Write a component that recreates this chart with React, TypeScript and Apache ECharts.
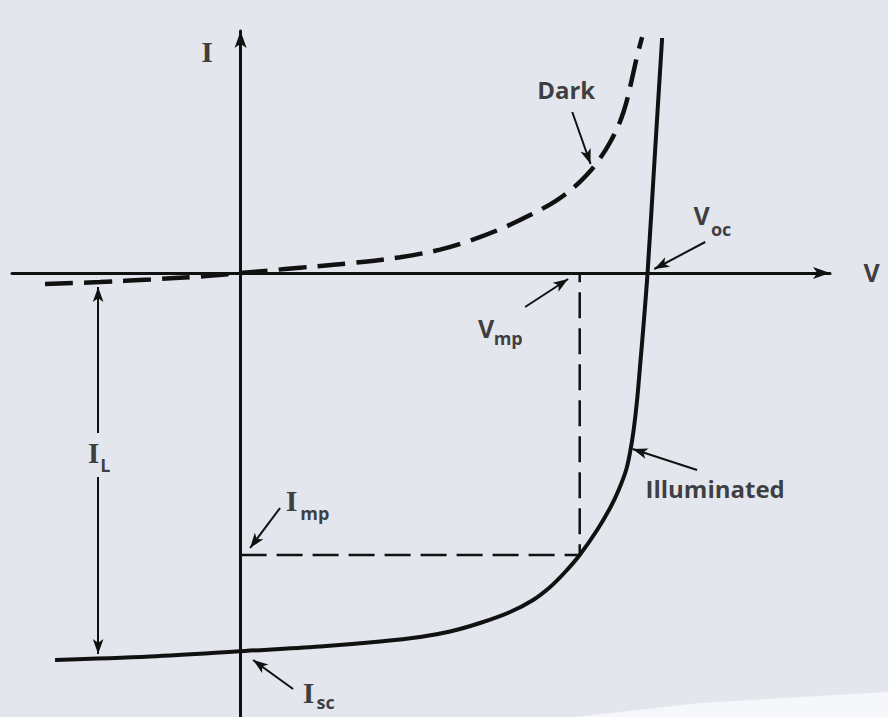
import React, { useEffect, useRef } from "react";
import * as echarts from "echarts";

// Solar cell I-V characteristics (V in volts, I in mA)

// Illuminated curve
const ILLUM_V = [-0.2735, -0.1334, 0.0066, 0.1172, 0.2057, 0.2647, 0.3089, 0.353, 0.3974, 0.4313, 0.4564, 0.4785, 0.5, 0.5257, 0.5456, 0.5574, 0.5684, 0.5743, 0.5795, 0.5846, 0.5891, 0.5935, 0.6, 0.6112, 0.6215];
const ILLUM_I = [-38.7, -38.35, -37.8, -37.35, -36.85, -36.4, -35.85, -35.0, -33.9, -32.7, -31.4, -29.9, -28.2, -25.7, -23.4, -21.7, -19.7, -17.9, -15.7, -12.7, -9.2, -5.7, 0, 12.3, 23.5];

// Dark curve
const DARK_V = [-0.2883, -0.2072, -0.1334, -0.0597, 0, 0.0435, 0.0877, 0.1615, 0.2352, 0.2942, 0.3384, 0.3826, 0.4268, 0.4637, 0.4932, 0.5153, 0.5301, 0.5448, 0.5596, 0.5684, 0.5773, 0.5846, 0.592];
const DARK_I = [-1.1, -0.9, -0.65, -0.35, 0, 0.26, 0.53, 0.98, 1.58, 2.34, 3.24, 4.38, 5.79, 7.17, 8.67, 10.17, 11.47, 13.07, 15.17, 16.97, 19.49, 21.69, 23.59];

// Characteristic points
const VOC = 0.6;
const ISC = -37.8;
const VMP = 0.5;
const IMP = -28.2;

// Axis ranges
const X_MIN = -0.337;
const X_MAX = 0.869;
const Y_MIN = -44.4;
const Y_MAX = 24.2;

// Light-generated current marker (V position, current span)
const IL_V = -0.21;
const IL_TOP = -1.4;
const IL_GAP_TOP = -16.0;
const IL_GAP_BOTTOM = -20.4;
const IL_BOTTOM = ISC - 0.3;

// Pointer arrows: [tailV, tailI, tipV, tipI]
const POINTERS = [
  [0.489, 16.1, 0.516, 10.9], // Dark
  [0.685, 3.1, 0.61, 0.4], // Voc
  [0.4195, -3.4, 0.4829, -0.6], // Vmp
  [0.0582, -23.5, 0.014, -27.5], // Imp
  [0.0774, -41.6, 0.0184, -38.7], // Isc
  [0.673, -19.7, 0.578, -17.6], // Illuminated
];

// Text annotations
const CURVE_NAMES = ["Dark", "Illuminated"];
const CURVE_NAME_POS = [[0.48, 18.4], [0.6996, -21.5]];

const V_SYMBOLS = ["V", "V", "V"];
const V_SYMBOL_POS = [[0.9304, 0.15], [0.6797, 5.8], [0.362, -5.45]];

const I_SYMBOLS = ["I", "I", "I", "I"];
const I_SYMBOL_POS = [[-0.0494, 22.2], [0.0752, -22.7], [0.1003, -41.9], [-0.2168, -17.9]];

const SUBSCRIPTS = ["oc", "mp", "mp", "sc", "L"];
const SUBSCRIPT_POS = [[0.7085, 4.4], [0.3945, -6.5], [0.1095, -24.0], [0.1255, -42.9], [-0.1995, -19.15]];

const INK = "#111111";
const PAPER = "#e4e6ee";
const SANS = "'Open Sans', 'DejaVu Sans', sans-serif";
const SERIF = "'Liberation Serif', 'DejaVu Serif', serif";

function textSeries(names: string[], pos: number[][], font: Record<string, unknown>) {
  return {
    type: "scatter",
    symbol: "circle",
    symbolSize: 1,
    clip: false,
    silent: true,
    z: 6,
    itemStyle: { color: "transparent" },
    data: names.map((n, k) => ({ name: n, value: pos[k] })),
    label: {
      show: true,
      position: "inside",
      formatter: "{b}",
      color: INK,
      ...font,
    },
  };
}

const arrowEnd = { symbol: "arrow", symbolSize: [8, 15] };

export default function App() {
  const ref = useRef<HTMLDivElement>(null);

  useEffect(() => {
    if (!ref.current) return;
    const chart = echarts.init(ref.current, undefined, { renderer: "svg" });

    const axisCommon = {
      type: "value",
      axisLine: {
        show: true,
        onZero: true,
        symbol: ["none", "arrow"],
        symbolSize: [9, 17],
        lineStyle: { color: INK, width: 3 },
      },
      axisTick: { show: false },
      axisLabel: { show: false },
      splitLine: { show: false },
    };

    const pointerLines = POINTERS.map(([tv, ti, hv, hi]) => [
      { coord: [tv, ti], symbol: "none" },
      { coord: [hv, hi], ...arrowEnd },
    ]);

    const ilLines = [
      [
        { coord: [IL_V, IL_GAP_TOP], symbol: "none" },
        { coord: [IL_V, IL_TOP], ...arrowEnd },
      ],
      [
        { coord: [IL_V, IL_GAP_BOTTOM], symbol: "none" },
        { coord: [IL_V, IL_BOTTOM], ...arrowEnd },
      ],
    ];

    chart.setOption({
      animation: false,
      backgroundColor: PAPER,
      grid: { left: 12, right: 58, top: 31, bottom: 0 },
      xAxis: { ...axisCommon, min: X_MIN, max: X_MAX },
      yAxis: { ...axisCommon, min: Y_MIN, max: Y_MAX },
      graphic: [
        {
          type: "polygon",
          silent: true,
          z: -1,
          shape: { points: [[575, 717], [700, 703], [888, 692], [888, 717]] },
          style: { fill: "#f6f7fa" },
        },
      ],
      series: [
        {
          name: "Illuminated",
          type: "line",
          smooth: 0.35,
          showSymbol: false,
          silent: true,
          clip: false,
          z: 4,
          lineStyle: { color: INK, width: 4 },
          data: ILLUM_V.map((v, k) => [v, ILLUM_I[k]]),
          markLine: {
            silent: true,
            animation: false,
            label: { show: false },
            lineStyle: { color: INK, width: 2, type: "solid" },
            data: [...pointerLines, ...ilLines],
          },
        },
        {
          name: "Dark",
          type: "line",
          smooth: 0.35,
          showSymbol: false,
          silent: true,
          clip: false,
          z: 4,
          lineStyle: { color: INK, width: 4.5, type: [28, 11] },
          data: DARK_V.map((v, k) => [v, DARK_I[k]]),
        },
        {
          name: "Maximum power",
          type: "line",
          showSymbol: false,
          silent: true,
          z: 3,
          lineStyle: { color: INK, width: 2.5, type: [26, 10] },
          data: [
            [0, IMP],
            [VMP, IMP],
            [VMP, 0],
          ],
        },
        textSeries(CURVE_NAMES, CURVE_NAME_POS, { fontFamily: SANS, fontSize: 24, fontWeight: "bold" }),
        textSeries(V_SYMBOLS, V_SYMBOL_POS, { fontFamily: SANS, fontSize: 25, fontWeight: "bold" }),
        textSeries(I_SYMBOLS, I_SYMBOL_POS, { fontFamily: SERIF, fontSize: 30, fontWeight: "bold" }),
        textSeries(SUBSCRIPTS, SUBSCRIPT_POS, { fontFamily: SANS, fontSize: 18, fontWeight: "bold" }),
      ],
    });

    return () => chart.dispose();
  }, []);

  return (
    <div
      ref={ref}
      style={{ position: "fixed", left: 0, top: 0, width: 888, height: 717 }}
    />
  );
}
